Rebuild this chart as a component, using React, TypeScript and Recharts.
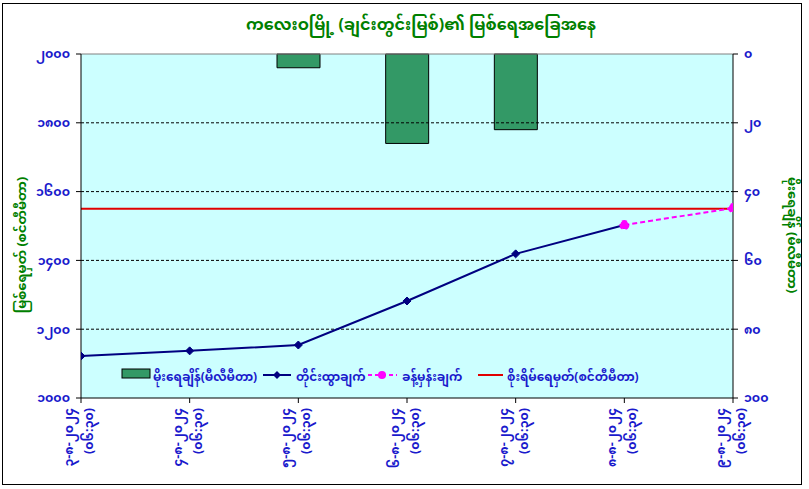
import React from "react";
import {
  ComposedChart,
  Bar,
  Line,
  XAxis,
  YAxis,
  CartesianGrid,
  ReferenceLine,
} from "recharts";

const DATE_LABELS = [
  "၃-၈-၂၀၂၄",
  "၄-၈-၂၀၂၄",
  "၅-၈-၂၀၂၄",
  "၆-၈-၂၀၂၄",
  "၇-၈-၂၀၂၄",
  "၈-၈-၂၀၂၄",
  "၉-၈-၂၀၂၄",
];
const TIME_LABELS = [
  "(၀၆:၃၀)",
  "(၀၆:၃၀)",
  "(၀၆:၃၀)",
  "(၀၆:၃၀)",
  "(၀၆:၃၀)",
  "(၀၆:၃၀)",
  "(၀၆:၃၀)",
];
const MEASURED = [1122, 1137, 1154, 1282, 1419, 1503, null];
const FORECAST = [null, null, null, null, null, 1503, 1552];
const RAIN = [null, null, 4, 26, 22, null, null];
const DANGER = 1550;

const LEFT_TICKS = [1000, 1200, 1400, 1600, 1800, 2000];
const GRID_TICKS = [1200, 1400, 1600, 1800];
const RIGHT_TICKS = [0, 20, 40, 60, 80, 100];
const X_TICKS = [0, 1, 2, 3, 4, 5, 6];

const TITLE = "ကလေးဝမြို့ (ချင်းတွင်းမြစ်)၏ မြစ်ရေအခြေအနေ";
const LEFT_TITLE = "မြစ်ရေမှတ် (စင်တီမီတာ)";
const RIGHT_TITLE = "မိုးရေချိန် (မီလီမီတာ)";
const LEGEND_RAIN = "မိုးရေချိန်(မီလီမီတာ)";
const LEGEND_MEASURED = "တိုင်းထွာချက်";
const LEGEND_FORECAST = "ခန့်မှန်းချက်";
const LEGEND_DANGER = "စိုးရိမ်ရေမှတ်(စင်တီမီတာ)";

const MM_DIGITS = ["၀", "၁", "၂", "၃", "၄", "၅", "၆", "၇", "၈", "၉"];
const toMM = (n: number) =>
  String(n)
    .split("")
    .map((c) => (c >= "0" && c <= "9" ? MM_DIGITS[Number(c)] : c))
    .join("");

const data = X_TICKS.map((i) => ({
  idx: i,
  measured: MEASURED[i],
  forecast: FORECAST[i],
  rain: RAIN[i],
}));

const FONT = "'Noto Sans Myanmar', 'Padauk', 'Myanmar Text', 'DejaVu Sans', sans-serif";
const BLUE = "#1a1acc";
const GREEN = "#008000";

const XTick = (props: any) => {
  const { x, y, payload } = props;
  const i = payload.value as number;
  return (
    <g transform={`translate(${x},${y})`}>
      <text
        transform="rotate(-90)"
        textAnchor="end"
        fontSize={12.5}
        fontWeight="bold"
        fill={BLUE}
        fontFamily={FONT}
      >
        <tspan x={-5} y={-8}>
          {DATE_LABELS[i]}
        </tspan>
        <tspan x={-5} y={12}>
          {TIME_LABELS[i]}
        </tspan>
      </text>
    </g>
  );
};

const Diamond = (props: any) => {
  const { cx, cy, value } = props;
  if (value == null || cx == null || cy == null) return null;
  const s = 4;
  return (
    <path
      d={`M${cx},${cy - s}L${cx + s},${cy}L${cx},${cy + s}L${cx - s},${cy}Z`}
      fill="#000080"
      stroke="#000080"
    />
  );
};

export default function App() {
  return (
    <div
      style={{
        position: "absolute",
        left: 0,
        top: 0,
        width: 809,
        height: 489,
        background: "#ffffff",
        overflow: "hidden",
      }}
    >
      <div
        style={{
          position: "absolute",
          left: 2,
          top: 3,
          width: 800,
          height: 482,
          border: "1px solid #000",
          boxSizing: "border-box",
          background: "#fff",
        }}
      />
      <div style={{ position: "absolute", left: 0, top: 0 }}>
        <ComposedChart
          width={809}
          height={489}
          data={data}
          margin={{ top: 54, right: 0, bottom: 0, left: 0 }}
        >
          <CartesianGrid
            yAxisId="left"
            fill="#CCFFFF"
            horizontal={false}
            vertical={false}
          />
          <XAxis
            dataKey="idx"
            type="number"
            domain={[0, 6]}
            ticks={X_TICKS}
            interval={0}
            height={91}
            tick={<XTick />}
            tickSize={5}
            tickMargin={0}
            axisLine={{ stroke: "#000" }}
            tickLine={{ stroke: "#000" }}
            allowDataOverflow
          />
          <YAxis
            yAxisId="left"
            orientation="left"
            width={81}
            domain={[1000, 2000]}
            ticks={LEFT_TICKS}
            interval={0}
            tickFormatter={toMM}
            tick={{ fill: BLUE, fontSize: 12.5, fontWeight: "bold", fontFamily: FONT }}
            tickSize={5}
            tickMargin={6}
            axisLine={{ stroke: "#000" }}
            tickLine={{ stroke: "#000" }}
          />
          <YAxis
            yAxisId="right"
            orientation="right"
            width={76}
            domain={[0, 100]}
            reversed
            ticks={RIGHT_TICKS}
            interval={0}
            tickFormatter={toMM}
            tick={{ fill: BLUE, fontSize: 12.5, fontWeight: "bold", fontFamily: FONT }}
            tickSize={5}
            tickMargin={6}
            axisLine={{ stroke: "#000" }}
            tickLine={{ stroke: "#000" }}
          />
          <ReferenceLine yAxisId="left" y={2000} stroke="#808080" />
          {GRID_TICKS.map((t) => (
            <ReferenceLine
              key={t}
              yAxisId="left"
              y={t}
              stroke="#000"
              strokeDasharray="3 2"
            />
          ))}
          <Bar
            yAxisId="right"
            dataKey="rain"
            barSize={43}
            fill="#339966"
            stroke="#000"
            strokeWidth={1}
            isAnimationActive={false}
          />
          <ReferenceLine yAxisId="left" y={DANGER} stroke="#e00000" strokeWidth={2} />
          <Line
            yAxisId="left"
            dataKey="measured"
            stroke="#000080"
            strokeWidth={2}
            dot={<Diamond />}
            activeDot={false}
            isAnimationActive={false}
            connectNulls={false}
          />
          <Line
            yAxisId="left"
            dataKey="forecast"
            stroke="#FF00FF"
            strokeWidth={2}
            strokeDasharray="5 3"
            dot={{ r: 4, fill: "#FF00FF", stroke: "#FF00FF" }}
            activeDot={false}
            isAnimationActive={false}
          />
        </ComposedChart>
      </div>
      <svg
        width={809}
        height={489}
        style={{ position: "absolute", left: 0, top: 0, pointerEvents: "none" }}
        fontFamily={FONT}
      >
        <text
          x={421}
          y={30}
          textAnchor="middle"
          fontSize={16}
          fontWeight="bold"
          fill={GREEN}
        >
          {TITLE}
        </text>
        <text
          transform="translate(26,245) rotate(-90)"
          textAnchor="middle"
          fontSize={13}
          fontWeight="bold"
          fill={GREEN}
        >
          {LEFT_TITLE}
        </text>
        <text
          transform="translate(788,235) rotate(90)"
          textAnchor="middle"
          fontSize={13}
          fontWeight="bold"
          fill={GREEN}
        >
          {RIGHT_TITLE}
        </text>
        <g fontSize={12} fontWeight="bold" fill={BLUE}>
          <rect x={122} y={369} width={28} height={9} fill="#339966" stroke="#000" />
          <text x={153} y={381}>{LEGEND_RAIN}</text>
          <line x1={263} y1={375} x2={291} y2={375} stroke="#000080" strokeWidth={2} />
          <path d="M277,371L281,375L277,379L273,375Z" fill="#000080" />
          <text x={296} y={381}>{LEGEND_MEASURED}</text>
          <line
            x1={368}
            y1={375}
            x2={397}
            y2={375}
            stroke="#FF00FF"
            strokeWidth={2}
            strokeDasharray="4 3"
          />
          <circle cx={382} cy={375} r={4} fill="#FF00FF" />
          <text x={402} y={381}>{LEGEND_FORECAST}</text>
          <line x1={478} y1={375} x2={503} y2={375} stroke="#e00000" strokeWidth={2} />
          <text x={507} y={381}>{LEGEND_DANGER}</text>
        </g>
      </svg>
    </div>
  );
}
